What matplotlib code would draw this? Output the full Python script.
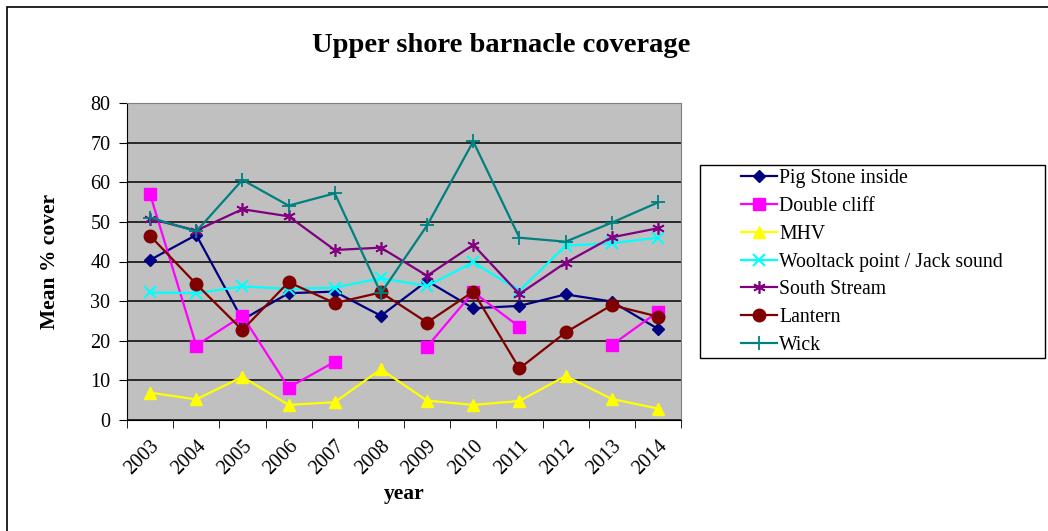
from matplotlib import pyplot as plt
from matplotlib.patches import Rectangle
import numpy as np

plt.rcParams['font.family'] = ['Liberation Serif', 'DejaVu Serif']

years = ['2003', '2004', '2005', '2006', '2007', '2008',
         '2009', '2010', '2011', '2012', '2013', '2014']
nan = np.nan

pig_stone = [40.4, 46.7, 25.3, 32.0, 32.4, 26.3, 35.1, 28.2, 28.8, 31.7, 29.9, 23.0]
double_cliff = [57.0, 18.8, 26.3, 8.2, 14.7, nan, 18.5, 32.3, 23.5, nan, 18.9, 27.3]
mhv = [6.9, 5.2, 10.9, 3.8, 4.5, 12.8, 4.9, 3.8, 4.8, 11.1, 5.3, 2.9]
wooltack = [32.2, 32.0, 33.7, 33.1, 33.4, 35.8, 33.8, 39.8, 32.6, 44.0, 44.6, 46.0]
south_stream = [50.8, 47.8, 53.2, 51.4, 42.9, 43.5, 36.4, 44.2, 31.8, 39.7, 46.1, 48.4]
lantern = [46.5, 34.3, 22.7, 34.8, 29.5, 32.2, 24.6, 32.4, 13.0, 22.1, 29.0, 26.1]
wick = [51.1, 47.6, 60.6, 54.1, 57.2, 32.0, 49.1, 70.3, 46.0, 45.0, 49.8, 54.9]

W, H = 1048, 531
fig = plt.figure(figsize=(W/100, H/100), dpi=100)
ax = fig.add_axes([127/W, 1-420/H, (681-127)/W, (420-103)/H])

# outer chart frame (only top/left visible in the crop)
fig.patches.append(Rectangle((7/W, -0.1), 1.2, 1-7/H+0.1, transform=fig.transFigure,
                             fill=False, edgecolor='#000000', linewidth=1.2))
# legend frame
fig.patches.append(Rectangle((700/W, 1-358/H), (1045-700)/W, (358-165)/H, transform=fig.transFigure,
                             fill=False, edgecolor='#000000', linewidth=1.0))

ax.set_facecolor('#C0C0C0')
x = np.arange(len(years))

ax.plot(x, pig_stone, '-', color='#000080', marker='D', markersize=6, lw=1.6, label='Pig Stone inside')
ax.plot(x, double_cliff, '-', color='#FF00FF', marker='s', markersize=9, lw=1.6, label='Double cliff')
ax.plot(x, mhv, '-', color='#FFFF00', marker='^', markersize=9, lw=1.6, label='MHV')
ax.plot(x, wooltack, '-', color='#00FFFF', marker='x', markersize=8, mew=1.5, lw=1.6,
        label='Wooltack point / Jack sound')
ax.plot(x, south_stream, '-', color='#800080', marker=(6, 2, 0), markersize=9, mew=1.2, lw=1.6,
        label='South Stream')
ax.plot(x, lantern, '-', color='#800000', marker='o', markersize=9, lw=1.6, label='Lantern')
ax.plot(x, wick, '-', color='#008080', marker='+', markersize=10, mew=1.3, lw=1.6, label='Wick')

ax.set_xlim(-0.5, len(years) - 0.5)
ax.set_ylim(0, 80)
ax.set_yticks(np.arange(0, 81, 10))
ax.yaxis.grid(True, color='black', linewidth=1.1)
ax.set_axisbelow(True)

ax.set_xticks(x)
ax.set_xticklabels(years, rotation=45, ha='right', rotation_mode='anchor')
ax.set_xticks(np.arange(-0.5, len(years), 1), minor=True)
ax.tick_params(axis='x', which='major', length=0, pad=12, labelsize=14.5)
ax.tick_params(axis='x', which='minor', length=6, direction='out', color='black')
ax.tick_params(axis='y', length=6, direction='out', labelsize=14.5, pad=6)

for side in ['top', 'right']:
    ax.spines[side].set_color('#808080')
for side in ['left', 'bottom']:
    ax.spines[side].set_color('black')

ax.set_ylabel('Mean % cover', fontsize=15.5, fontweight='bold', labelpad=22)
ax.set_xlabel('year', fontsize=15.5, fontweight='bold', labelpad=4)
fig.suptitle('Upper shore barnacle coverage', x=501/W, y=1-45/H, va='center',
             fontsize=20.5, fontweight='bold')

leg = ax.legend(loc='center left', bbox_to_anchor=(741/W, 1-262/H),
                bbox_transform=fig.transFigure, fontsize=14.2, frameon=False,
                handlelength=1.85, labelspacing=0.45, borderpad=0,
                handletextpad=0.1, borderaxespad=0)

plt.savefig('out.png', dpi=100)
